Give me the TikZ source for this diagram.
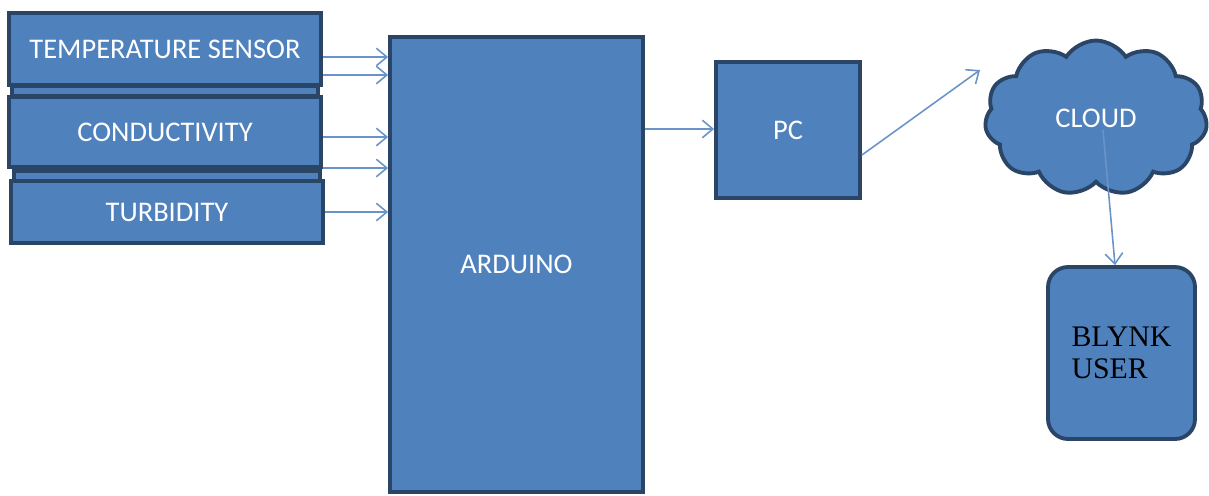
\documentclass[tikz,border=0pt]{standalone}
\usepackage{fontspec}
\setmainfont{Carlito}
\newfontfamily\serifblk{Liberation Serif}
\usetikzlibrary{arrows.meta,shapes.symbols}
\definecolor{boxfill}{HTML}{4F81BD}
\definecolor{boxline}{HTML}{2B4566}
\definecolor{arrcol}{HTML}{6A94C8}
\tikzset{
  blk/.style={draw=boxline, line width=2.2pt, fill=boxfill, text=white, inner sep=0pt,
    font=\fontsize{16.2}{18}\selectfont},
  arr/.style={draw=arrcol, line width=0.9pt, -{Straight Barb[length=6pt,width=10pt,line width=0.9pt]}},
}
\begin{document}
\begin{tikzpicture}[x=0.02cm,y=-0.02cm]
\useasboundingbox (0,0) rectangle (1209,495);
% sensors
\node[blk, minimum width=6.24cm, minimum height=1.44cm] (temp) at (165,49) {TEMPERATURE SENSOR};
\node[blk, minimum width=6.12cm, minimum height=0.2cm] (strip1) at (165,91) {};
\node[blk, minimum width=6.24cm, minimum height=1.4cm] (cond) at (165,132) {CONDUCTIVITY};
\node[blk, minimum width=6.12cm, minimum height=0.2cm] (strip2) at (167,176) {};
\node[blk, minimum width=6.24cm, minimum height=1.24cm] (turb) at (167,212) {TURBIDITY};
% arduino
\node[blk, minimum width=5.06cm, minimum height=9.1cm] (ard) at (516.5,264.5) {ARDUINO};
% pc
\node[blk, minimum width=2.88cm, minimum height=2.72cm] (pc) at (788,130) {PC};
% cloud
\node[blk, cloud, cloud puffs=11, cloud puff arc=115, cloud ignores aspect,
  minimum width=4.45cm, minimum height=3.1cm] (cloud) at (1096,118) {CLOUD};
% blynk
\node[blk, rounded corners=0.4cm, minimum width=2.94cm, minimum height=3.44cm,
  text=black, align=left, font=\serifblk\fontsize{17}{18.5}\selectfont] (blynk) at (1121.5,353) {BLYNK\\USER};
% arrows
\draw[arr] (temp.east |- 0,57) -- (ard.west |- 0,57);
\draw[arr] (temp.east |- 0,75) -- (ard.west |- 0,75);
\draw[arr] (cond.east |- 0,137) -- (ard.west |- 0,137);
\draw[arr] (cond.east |- 0,168) -- (ard.west |- 0,168);
\draw[arr] (turb.east |- 0,212) -- (ard.west |- 0,212);
\draw[arr] (ard.east |- 0,129) -- (pc.west |- 0,129);
\coordinate (ctip) at (980,70);
\draw[arr] (pc.east |- 0,155) -- (ctip);
\coordinate (cstart) at (1103,130);
\draw[arr] (cstart) -- (blynk.north -| 1115,0);
\end{tikzpicture}
\end{document}
